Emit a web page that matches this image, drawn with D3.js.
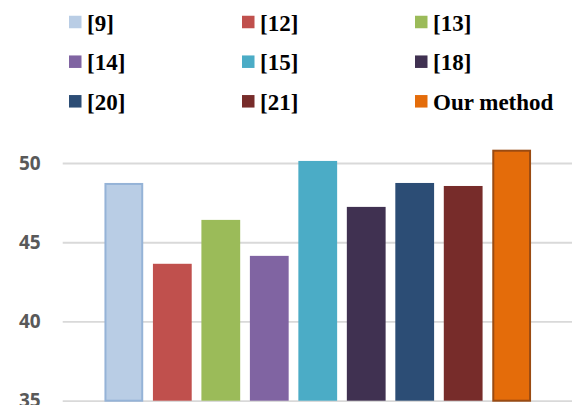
<!DOCTYPE html>
<html>
<head>
<meta charset="utf-8">
<script src="https://cdn.jsdelivr.net/npm/d3@7"></script>
<style>
  html, body { margin: 0; padding: 0; background: #fff; }
  svg { display: block; }
</style>
</head>
<body>
<svg id="chart" width="576" height="405"></svg>
<script>
// Methods compared, their scores and colours
const categories = ["[9]", "[12]", "[13]", "[14]", "[15]", "[18]", "[20]", "[21]", "Our method"];
const values = [48.74, 43.64, 46.41, 44.14, 50.13, 47.23, 48.74, 48.55, 50.84];
const colors = ["#b9cde5", "#c0504d", "#9bbb59", "#8064a2", "#4bacc6", "#403151", "#2c4d75", "#772c2a", "#e46c0a"];
const strokes = ["#95b3d7", null, null, null, null, null, null, null, "#9a4b12"];
const yTicks = [35, 40, 45, 50];

const svg = d3.select("#chart");

const x = d3.scaleBand()
  .domain(categories)
  .range([99.6, 535.9])
  .paddingInner(0.2)
  .paddingOuter(0.1);

const y = d3.scaleLinear()
  .domain([35, 50])
  .range([400.7, 163]);

// Horizontal gridlines
const yAxis = d3.axisLeft(y)
  .tickValues(yTicks)
  .tickSize(-(572 - 62.7))
  .tickPadding(22)
  .tickFormat(d3.format("d"));

const gAxis = svg.append("g")
  .attr("transform", "translate(62.7,0)")
  .call(yAxis);
gAxis.select(".domain").remove();
gAxis.selectAll(".tick line")
  .attr("stroke", "#d9d9d9")
  .attr("stroke-width", 1.8);
gAxis.selectAll(".tick text")
  .attr("fill", "#595959")
  .style("font-family", "'Open Sans', sans-serif")
  .style("font-weight", "700")
  .style("font-size", "19px");

// Bars
svg.append("g")
  .selectAll("rect")
  .data(categories)
  .join("rect")
  .attr("x", (d, i) => x(d) + (strokes[i] ? 1 : 0))
  .attr("width", (d, i) => x.bandwidth() - (strokes[i] ? 2 : 0))
  .attr("y", (d, i) => y(values[i]) + (strokes[i] ? 1 : 0))
  .attr("height", (d, i) => y(35) - y(values[i]) - (strokes[i] ? 1 : 0))
  .attr("fill", (d, i) => colors[i])
  .attr("stroke", (d, i) => strokes[i] || "none")
  .attr("stroke-width", 2);

// Legend: three columns, three rows
const legendCols = [69, 242, 415];
const legendRows = [22, 61.7, 101.3];
const sw = 12.5;

const legend = svg.append("g")
  .selectAll("g")
  .data(categories)
  .join("g")
  .attr("transform", (d, i) => `translate(${legendCols[i % 3]},${legendRows[Math.floor(i / 3)]})`);

legend.append("rect")
  .attr("x", 0)
  .attr("y", -sw / 2)
  .attr("width", sw)
  .attr("height", sw)
  .attr("fill", (d, i) => colors[i]);

legend.append("text")
  .attr("x", sw + 5.5)
  .attr("y", 8.7)
  .attr("fill", "#000")
  .style("font-family", "'Liberation Serif', 'Times New Roman', serif")
  .style("font-weight", "700")
  .style("font-size", "23px")
  .text(d => d);
</script>
</body>
</html>
